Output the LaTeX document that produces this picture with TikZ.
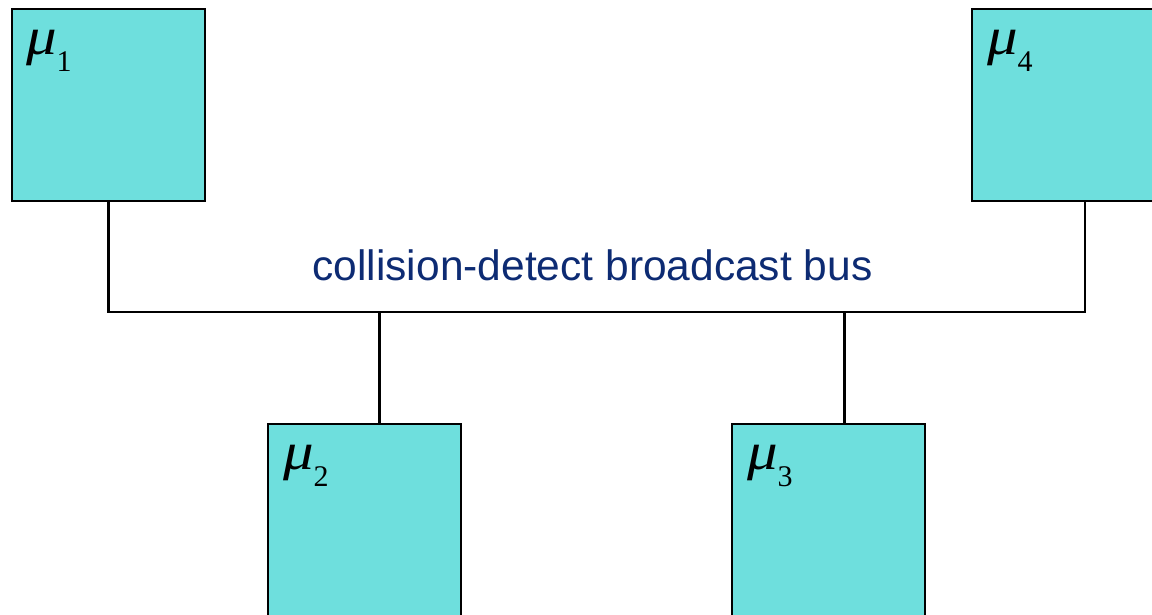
\documentclass[tikz,border=0pt]{standalone}
\usepackage{fontspec}
\usepackage{graphicx}
\setsansfont{Liberation Sans}
\newfontfamily\serifL{Liberation Serif}
\definecolor{boxfill}{RGB}{110,223,221}
\definecolor{busblue}{RGB}{13,43,115}
\newcommand{\mulabel}[1]{{\serifL\fontsize{53}{53}\selectfont\itshape\scalebox{1.15}[1]{μ}}{\serifL\fontsize{30}{30}\selectfont\raisebox{-17pt}{#1}}}
\begin{document}
\begin{tikzpicture}[x=1pt,y=-1pt,
  unit/.style={draw=black,line width=2.8pt,fill=boxfill,rectangle,inner sep=0pt,outer sep=0pt,
    minimum width=193pt,minimum height=192pt,anchor=north west},
  wire/.style={draw=black,line width=2.8pt,line cap=rect},
  mulab/.style={anchor=base west,inner sep=0pt,outer sep=0pt},
  buslabel/.style={font=\sffamily\fontsize{42.5}{50}\selectfont,text=busblue,anchor=base,inner sep=0pt}]
\useasboundingbox (0,0) rectangle (1152,615);
\clip (0,0) rectangle (1152,615);
\node[unit] (m1) at (12,9) {};
\node[unit] (m4) at (972,9) {};
\node[unit] (m2) at (268,424) {};
\node[unit] (m3) at (732,424) {};
\node[mulab] (l1) at ([xshift=14pt,yshift=-46pt]m1.north west) {\mulabel{1}};
\node[mulab] (l4) at ([xshift=15pt,yshift=-46pt]m4.north west) {\mulabel{4}};
\node[mulab] (l2) at ([xshift=15pt,yshift=-45pt]m2.north west) {\mulabel{2}};
\node[mulab] (l3) at ([xshift=15pt,yshift=-45pt]m3.north west) {\mulabel{3}};
\coordinate (busL) at (m1.south |- 0,312);
\coordinate (busR) at ([xshift=16.5pt]m4.south |- 0,312);
\draw[wire] (m1.south) -- (busL) -- (busR) -- ([xshift=16.5pt]m4.south);
\draw[wire] ([xshift=15pt]m2.north) -- ([xshift=15pt]m2.north |- busL);
\draw[wire] ([xshift=16pt]m3.north) -- ([xshift=16pt]m3.north |- busL);
\node[buslabel] (bus) at (592.5,280) {collision-detect broadcast bus};
\end{tikzpicture}
\end{document}
